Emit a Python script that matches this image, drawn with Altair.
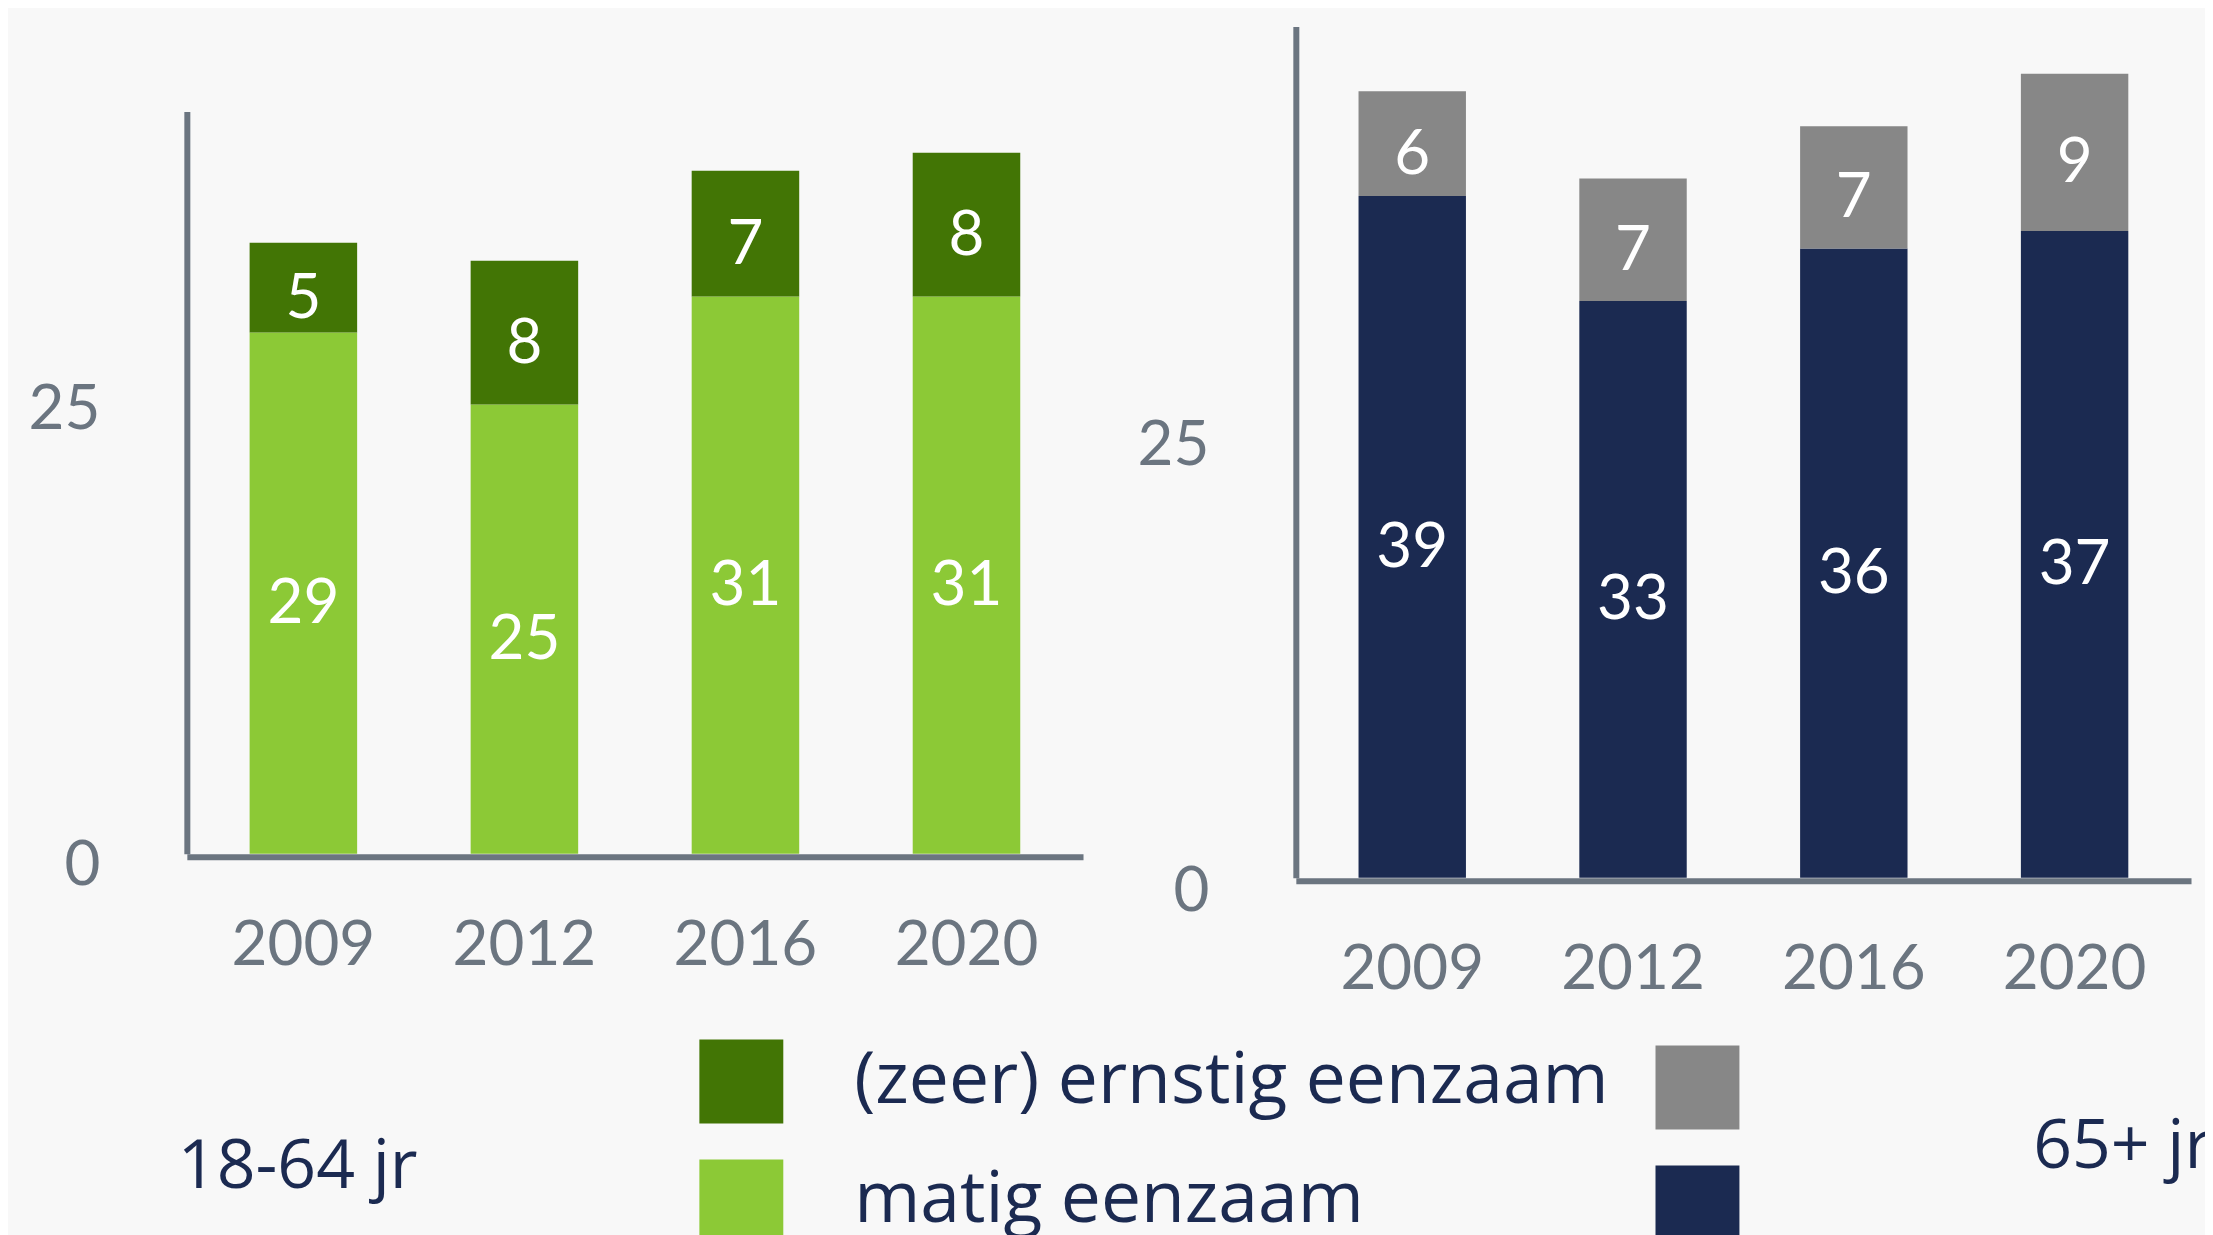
import altair as alt
import pandas as pd

# ---- data -------------------------------------------------------------
years = ["2009", "2012", "2016", "2020"]
categories = ["(zeer) ernstig eenzaam", "matig eenzaam"]
young_matig = [29, 25, 31, 31]
young_ernstig = [5, 8, 7, 8]
old_matig = [39, 33, 36, 37]
old_ernstig = [6, 7, 7, 9]
y_ticks = [0, 25]
young_title = "18-64 jr"
old_title = "65+ jr"

# ---- style ------------------------------------------------------------
BG = "#f8f8f8"
AXIS = "#6b7580"
NAVY = "#1b2a51"
young_colors = ["#427505", "#8cc936"]
old_colors = ["#878787", "#1b2a51"]


def table(matig, ernstig):
    rows = []
    for i, yr in enumerate(years):
        rows.append({"jaar": yr, "cat": categories[1], "waarde": matig[i], "volgorde": 0})
        rows.append({"jaar": yr, "cat": categories[0], "waarde": ernstig[i], "volgorde": 1})
    return pd.DataFrame(rows)


def legend(title, orient_title, lx, ly, title_pad, show_labels):
    kw = dict(
        orient="none", legendX=lx, legendY=ly, direction="vertical",
        title=title, titleOrient=orient_title, titleAnchor="middle",
        titleFont="Open Sans", titleFontSize=68, titleFontWeight="normal",
        titleColor=NAVY, titlePadding=title_pad, titleLimit=2000,
        labelFont="Open Sans", labelFontSize=71.5, labelColor=NAVY,
        labelLimit=2000, labelOffset=71 if show_labels else 0,
        symbolType="square", symbolSize=7056, symbolStrokeWidth=0,
        symbolOpacity=1, rowPadding=36, padding=0,
    )
    if orient_title == "left":
        kw["titleBaseline"] = "line-top"
        kw["titleLineHeight"] = 55
    else:
        kw["titleBaseline"] = "middle"
    if not show_labels:
        kw["labelExpr"] = "''"
    return alt.Legend(**kw)


def panel(df, colors, channel, y_scale, x_offset, leg, width, zero_shift):
    base = alt.Chart(df).transform_stack(
        stack="waarde", groupby=["jaar"], as_=["y0", "y1"],
        sort=[alt.SortField("volgorde", order="ascending")],
    ).transform_calculate(mid="(datum.y0 + datum.y1) / 2")

    x = alt.X(
        "jaar:N", sort=years, title=None,
        scale=alt.Scale(paddingInner=0.5135, paddingOuter=0.284),
        axis=alt.Axis(labelAngle=0, offset=x_offset, ticks=False, tickSize=0,
                      labelPadding=59, domainWidth=6, domainColor=AXIS,
                      labelFont="Lato", labelFontSize=62, labelColor=AXIS,
                      grid=False),
    )
    y = alt.Y(
        "y0:Q", title=None, scale=y_scale,
        axis=alt.Axis(values=y_ticks, ticks=False, tickSize=0, labelPadding=87,
                      labelOffset={"condition": {"test": "datum.value == 0", "value": zero_shift},
                                   "value": 5},
                      domainWidth=6, domainColor=AXIS, labelFont="Lato",
                      labelFontSize=62, labelColor=AXIS, grid=False),
    )
    col_scale = alt.Scale(domain=categories, range=colors)
    if channel == "color":
        col = {"color": alt.Color("cat:N", scale=col_scale, legend=leg)}
    else:
        col = {"fill": alt.Fill("cat:N", scale=col_scale, legend=leg)}

    bars = base.mark_bar().encode(x=x, y=y, y2="y1:Q", **col)
    labels = base.mark_text(
        font="Lato", fontSize=62, color="white", align="center",
        baseline="alphabetic", dy=30,
    ).encode(x=alt.X("jaar:N", sort=years), y=alt.Y("mid:Q"), text="waarde:Q")
    return alt.layer(bars, labels).properties(width=width, height=852)


left = panel(
    table(young_matig, young_ernstig), young_colors, "color",
    alt.Scale(domain=[0, 41.3], range=[828, 85], nice=False, zero=False),
    -21, legend(young_title, "left", -9, 1014, 281, True), 897, 12,
)
right = panel(
    table(old_matig, old_ernstig), old_colors, "fill",
    alt.Scale(domain=[0, 48.7], nice=False, zero=False),
    3, legend(old_title, "right", 360, 1020, 294, False), 896, 14,
)

chart = alt.hconcat(left, right, spacing=213, bounds="flush").resolve_scale(
    color="independent", fill="independent", y="independent", x="independent"
).resolve_legend(color="independent", fill="independent").properties(
    background=BG,
    padding={"left": 20, "top": 18, "right": -8, "bottom": -15},
).configure_view(stroke=None)

chart.save("out.html", embed_options={"renderer": "svg", "actions": False})
